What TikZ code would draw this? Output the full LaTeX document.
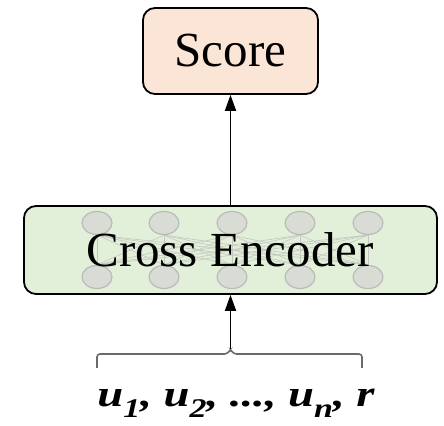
\documentclass[tikz,border=0pt]{standalone}
\usepackage{fontspec}
\setmainfont{Liberation Serif}
\usetikzlibrary{arrows.meta,shapes.geometric}

\definecolor{scorefill}{HTML}{FBE5D6}
\definecolor{encfill}{HTML}{E2F0D9}
\definecolor{unitfill}{HTML}{D8DCD5}
\definecolor{unitline}{HTML}{BABABA}
\definecolor{linkcol}{HTML}{C4C8C1}
\definecolor{bracecol}{HTML}{6A6A6A}

% subscript in the input sequence
\newcommand\lowidx[1]{\raisebox{-5.5pt}{\fontsize{13.5}{14}\selectfont\bfseries\itshape #1}}

\tikzset{
  roundbox/.style={draw=black, line width=0.9pt, rounded corners=6pt, inner sep=0pt},
  unit/.style={ellipse, draw=unitline, fill=unitfill, line width=0.6pt,
               minimum width=15pt, minimum height=11.5pt, inner sep=0pt},
  link/.style={draw=linkcol, line width=0.3pt},
  arr/.style={draw=black, line width=0.9pt, -{Triangle[width=5.5pt,length=8pt]}},
  bracket/.style={draw=bracecol, line width=0.8pt, rounded corners=1.5pt},
  bigtext/.style={font=\fontsize{24.5}{29}\selectfont, inner sep=0pt}
}

\begin{document}
\begin{tikzpicture}[x=0.5pt, y=-0.5pt]
\useasboundingbox (0,0) rectangle (444,426);

% output box
\node[roundbox, fill=scorefill, minimum width=87.5pt, minimum height=43pt,
      bigtext] (score) at (230.5,51) {Score};

% encoder box with its layer of units
\node[roundbox, fill=encfill, minimum width=206.5pt, minimum height=44pt]
      (enc) at (230.5,250) {};
\foreach \i/\x in {1/97, 2/164, 3/232, 4/300, 5/368} {
  \node[unit] (t\i) at (\x,223) {};
  \node[unit] (b\i) at (\x,277) {};
}
\foreach \i in {1,...,5}
  \foreach \j in {1,...,5}
    \draw[link] (t\i.south) -- (b\j.north);
\node[bigtext] (enclabel) at (230,249.5) {Cross Encoder};

% arrow into the output box
\draw[arr] (enc.north) -- (score.south);

% bracket grouping the inputs
\coordinate (bl) at (97,368);
\coordinate (br) at (362,368);
\coordinate (tip) at (230.5,349);
\draw[bracket] (bl) |- (227.5,354) -- (tip) -- (233.5,354) -| (br);
\draw[arr] (tip) -- (enc.south);

% input sequence
\node[anchor=base, inner sep=0pt] (inputs) at (236,407)
  {\scalebox{1.26}[1]{\fontsize{18.5}{20}\selectfont\bfseries\itshape
   u\lowidx{1}, u\lowidx{2}, ..., u\lowidx{n}, r}};
\end{tikzpicture}
\end{document}
